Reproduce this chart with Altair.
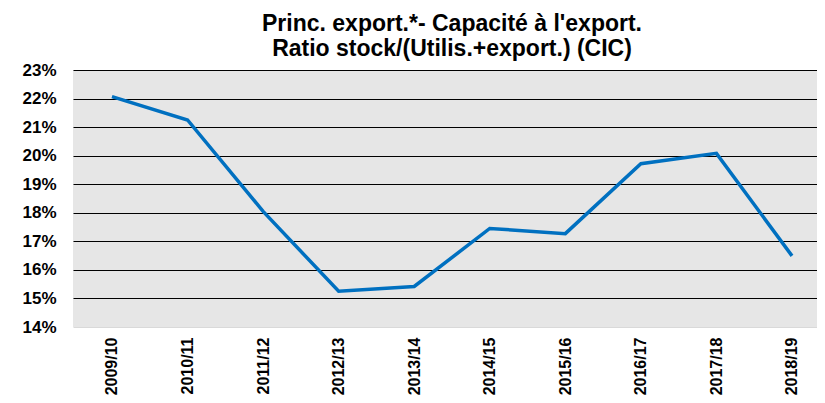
import altair as alt
import pandas as pd

seasons = ["2009/10", "2010/11", "2011/12", "2012/13", "2013/14",
           "2014/15", "2015/16", "2016/17", "2017/18", "2018/19"]
ratio = [0.2207, 0.2125, 0.1805, 0.1525, 0.1542,
         0.1745, 0.1727, 0.1972, 0.2008, 0.1649]
y_ticks = [0.14, 0.15, 0.16, 0.17, 0.18, 0.19, 0.20, 0.21, 0.22, 0.23]

df = pd.DataFrame({"idx": list(range(len(seasons))), "season": seasons,
                   "ratio": ratio})

FONT = "Liberation Sans"
label_array = "[" + ",".join(f"'{s}'" for s in seasons) + "]"

chart = alt.Chart(df).mark_line(color="#0070c0", strokeWidth=3.5).encode(
    x=alt.X("idx:Q",
            scale=alt.Scale(domain=[-0.516, 9.331], nice=False, zero=False),
            axis=alt.Axis(title=None, values=list(range(len(seasons))),
                          labelExpr=f"{label_array}[datum.value]",
                          labelAngle=-90, labelFont=FONT,
                          labelFontWeight="bold", labelFontSize=16,
                          labelColor="black", ticks=False, domain=False,
                          grid=False, labelPadding=10, labelAlign="right",
                          labelBaseline="middle")),
    y=alt.Y("ratio:Q",
            scale=alt.Scale(domain=[0.14, 0.23], nice=False, zero=False),
            axis=alt.Axis(title=None, format=".0%", values=y_ticks,
                          labelFont=FONT, labelFontWeight="bold",
                          labelFontSize=17, labelColor="black",
                          ticks=False, domain=False, labelPadding=17,
                          grid=True, gridWidth=1, gridOpacity=1,
                          gridColor={"condition": {"test": "datum.value < 0.145",
                                                   "value": "#d9d9d9"},
                                     "value": "black"})),
).properties(
    width=744,
    height=257,
    title=alt.TitleParams(
        text=["Princ. export.*- Capacité à l'export.",
              "Ratio stock/(Utilis.+export.) (CIC)"],
        font=FONT, fontSize=23, fontWeight="bold", color="black",
        anchor="middle", offset=0, lineHeight=25, dx=7),
    autosize=alt.AutoSizeParams(type="none"),
    padding={"left": 65, "top": 62, "right": 0, "bottom": 68},
).configure_view(
    fill="#e6e6e6", stroke=None
)

chart.save("out.html", embed_options={"renderer": "svg", "actions": False})
